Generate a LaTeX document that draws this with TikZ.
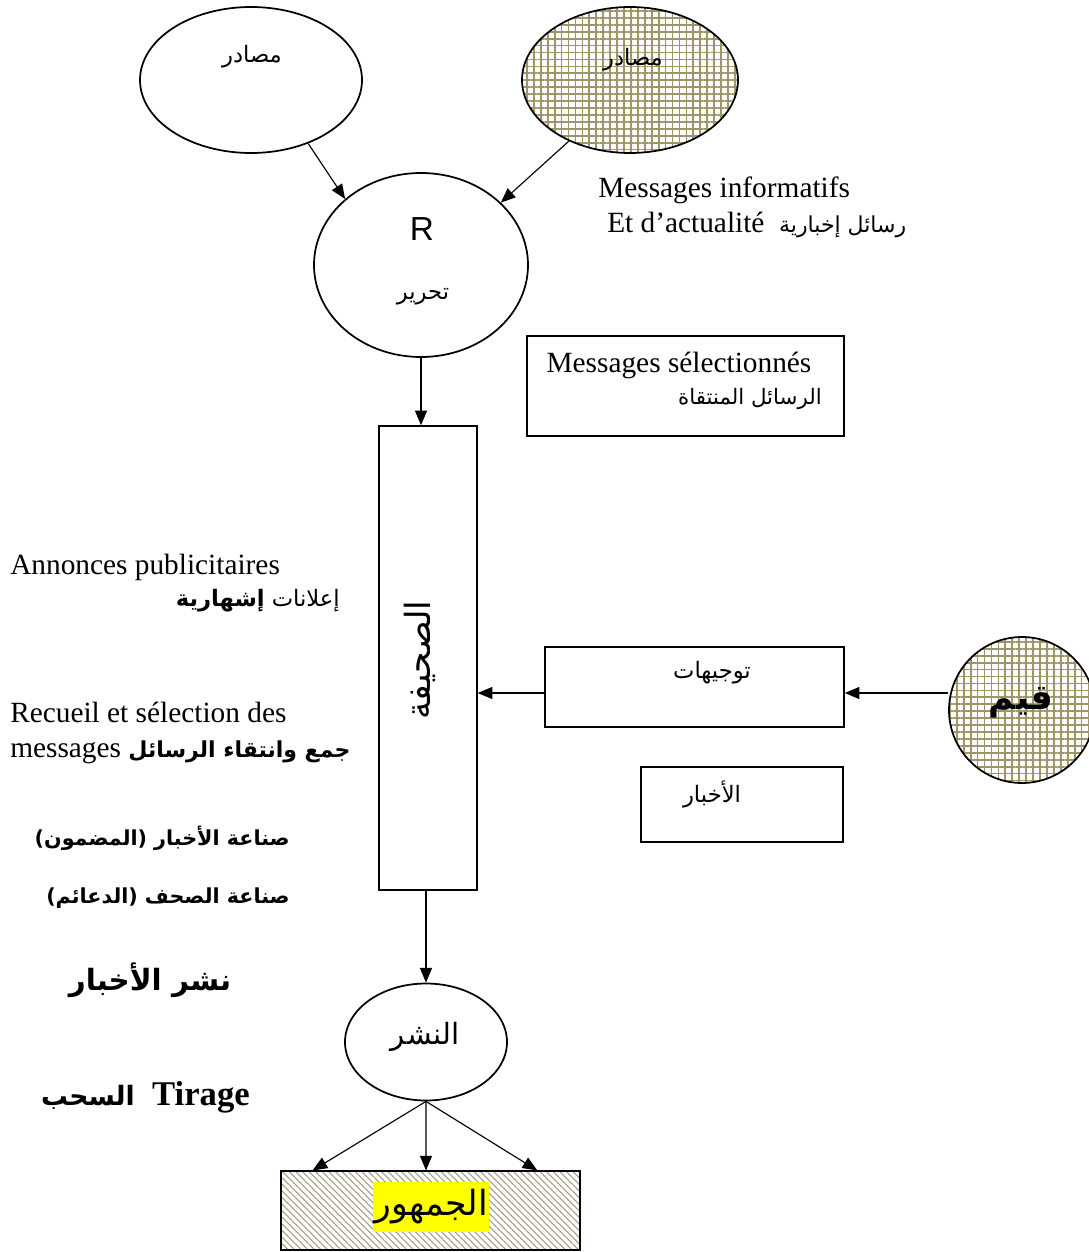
\documentclass[tikz,border=0pt]{standalone}
\usepackage{fontspec}
\setmainfont{Liberation Serif}
\newfontfamily\arabicfont[Script=Arabic]{DejaVu Sans}
\newfontfamily\sansR{Liberation Sans}
\TeXXeTstate=1
\usetikzlibrary{shapes.geometric, arrows.meta, patterns.meta, calc}
\definecolor{hatcholive}{RGB}{160,148,105}
\definecolor{hatchgray}{RGB}{165,155,128}
\definecolor{marker}{RGB}{255,255,0}
\newcommand{\artxt}[1]{{\arabicfont\beginR #1\endR}}

\begin{document}
\begin{tikzpicture}[x=0.75pt, y=-0.75pt,
    oval/.style={ellipse, draw, line width=1.3pt, inner sep=0pt},
    gridfill/.style={pattern={Hatch[angle=0,distance=5.2pt,line width=1.3pt]}, pattern color=hatcholive},
    boxed/.style={rectangle, draw, line width=1.1pt, inner sep=0pt},
    arr/.style={-{Triangle[length=11pt,width=9pt]}, line width=0.85pt},
    latin/.style={font=\fontsize{22}{26}\selectfont, inner sep=0pt},
    arsmall/.style={font=\fontsize{17}{20}\selectfont, inner sep=0pt},
    arbold/.style={font=\fontsize{15.5}{19}\selectfont\bfseries, inner sep=0pt}
]
    \useasboundingbox (0,0) rectangle (1088,1252);

    % sources and editing
    \node[oval, minimum width=166.5pt, minimum height=109.5pt] (srcL) at (251,80) {};
    \node[arsmall] (srcLtxt) at (252,57) {\artxt{مصادر}};
    \node[oval, gridfill, minimum width=162pt, minimum height=109.5pt] (srcR) at (630,80) {};
    \node[arsmall] (srcRtxt) at (633,60) {\artxt{مصادر}};
    \node[oval, minimum width=160.5pt, minimum height=138pt] (redac) at (421,265) {};
    \node[font=\sansR\fontsize{25}{29}\selectfont, inner sep=0pt] (redacR) at (422,229) {R};
    \node[arsmall] (redacTxt) at (423,297) {\artxt{تحرير}};

    \node[latin, anchor=west] (infoA) at (598,190) {Messages informatifs};
    \node[latin, anchor=west] (infoB) at (607,225) {Et d’actualité\ \ {\fontsize{16.5}{19}\selectfont\artxt{رسائل إخبارية}}};

    \node[boxed, minimum width=237.75pt, minimum height=75pt] (selBox) at (685.5,386) {};
    \node[latin] (selA) at (679,365) {Messages sélectionnés};
    \node[arsmall, font=\fontsize{16}{19}\selectfont, anchor=east] (selB) at (822,399) {\artxt{الرسائل المنتقاة}};

    % the newspaper column
    \node[boxed, minimum width=73.5pt, minimum height=348pt] (paper) at (428,658) {};
    \node[font=\fontsize{26}{30}\selectfont, inner sep=0pt, rotate=90] (paperTxt) at (420,660) {\artxt{الصحيفة}};

    \coordinate (lvl) at (0,693);
    \node[boxed, minimum width=224.25pt, minimum height=60pt] (guide) at (694.5,687) {};
    \node[arsmall] (guideTxt) at (712,673) {\artxt{توجيهات}};
    \node[boxed, minimum width=151.5pt, minimum height=56.25pt] (news) at (742,804.5) {};
    \node[arsmall] (newsTxt) at (712,794) {\artxt{الأخبار}};
    \node[circle, draw, line width=1.3pt, gridfill, minimum size=109.5pt, inner sep=0pt] (qiyam) at (1022,710) {};
    \node[font=\fontsize{26}{30}\selectfont\bfseries, inner sep=0pt] (qiyamTxt) at (1021,703) {\artxt{قيم}};

    % publishing and public
    \node[oval, minimum width=121.5pt, minimum height=87.75pt] (publ) at (426,1042) {};
    \node[font=\fontsize{22}{26}\selectfont, inner sep=0pt] (publTxt) at (425,1037) {\artxt{النشر}};
    \node[boxed, line width=1.3pt, minimum width=224.25pt, minimum height=59.25pt,
          pattern={Lines[angle=-45,distance=3.5pt,line width=0.8pt]}, pattern color=hatchgray] (public) at (430.5,1210.5) {};
    \node[fill=marker, font=\fontsize{26}{30}\selectfont, inner xsep=1pt, minimum height=37.5pt] (publicTxt) at (431,1207) {\artxt{الجمهور}};

    % left column texts
    \node[latin, anchor=west] (adA) at (10,567) {Annonces publicitaires};
    \node[arsmall, anchor=east] (adB) at (340,601) {\artxt{إعلانات \textbf{إشهارية}}};
    \node[latin, anchor=west] (collA) at (10,712) {Recueil et sélection des};
    \node[latin, anchor=west] (collB) at (10,752) {messages {\fontsize{16.5}{19}\selectfont\bfseries\artxt{جمع وانتقاء الرسائل}}};
    \node[arbold, anchor=east] (makeNews) at (290,838) {\artxt{صناعة الأخبار (المضمون)}};
    \node[arbold, anchor=east] (makePaper) at (290,898) {\artxt{صناعة الصحف (الدعائم)}};
    \node[font=\fontsize{22}{26}\selectfont\bfseries, inner sep=0pt] (spread) at (150,980) {\artxt{نشر الأخبار}};
    \node[font=\fontsize{26}{30}\selectfont\bfseries, inner sep=0pt, anchor=east] (tirage) at (250,1097) {{\fontsize{20}{24}\selectfont\artxt{السحب}}\ \ Tirage};

    % connectors
    \draw[arr] (srcL.312) -- (redac.139);
    \draw[arr] (srcR.225) -- (redac.38);
    \draw[arr] (redac.south) -- (redac.south |- paper.north);
    \draw[arr] (qiyam.west |- lvl) -- (guide.east |- lvl);
    \draw[arr] (guide.west |- lvl) -- (paper.east |- lvl);
    \draw[arr] (paper.south -| publ.north) -- (publ.north);
    \foreach \f in {0.107,0.485,0.856}
        \draw[arr] (publ.south) -- ($(public.north west)!\f!(public.north east)$);
\end{tikzpicture}
\end{document}
